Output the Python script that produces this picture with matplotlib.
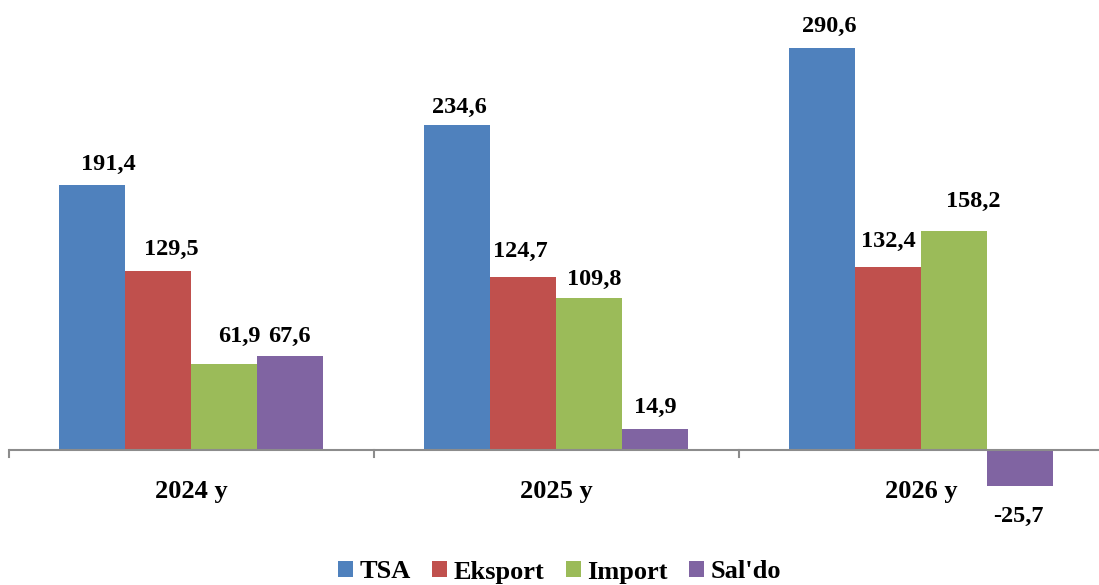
import matplotlib
matplotlib.use("Agg")
import matplotlib.pyplot as plt
import numpy as np
from matplotlib.patches import Patch

categories = ["2024 y", "2025 y", "2026 y"]
series_names = ["TSA", "Eksport", "Import", "Sal'do"]
tsa = [191.4, 234.6, 290.6]
eksport = [129.5, 124.7, 132.4]
import_ = [61.9, 109.8, 158.2]
saldo = [67.6, 14.9, -25.7]
colors = ["#4F81BD", "#C0504D", "#9BBB59", "#8064A2"]

# manual label placement (pixels): horizontal shift and gap from bar end to baseline
label_dx = [[16, 2, 7], [13, -3, 0], [15, 5, 19], [-1, 0, -2]]
label_gap = [[15, 13, 16], [16, 21, 20], [22, 13, 24], [15, 16, 36]]

plt.rcParams['font.family'] = ['Liberation Serif', 'DejaVu Serif']

W, H = 1099, 585
fig = plt.figure(figsize=(W / 100, H / 100), dpi=100)
ax_left, ax_right = 9, 1104
ax_top, ax_bot = 10, 540
ax = fig.add_axes([ax_left / W, 1 - ax_bot / H, (ax_right - ax_left) / W, (ax_bot - ax_top) / H])

px_per_unit = (450 - 48) / 290.6
ax.set_xlim(-0.5, 2.5)
ax.set_ylim(-(ax_bot - 450) / px_per_unit, (450 - ax_top) / px_per_unit)

x = np.arange(len(categories))
bw = 66 / 365
data = [tsa, eksport, import_, saldo]
for i, (vals, c) in enumerate(zip(data, colors)):
    pos = x + (i - 1.5) * bw
    ax.bar(pos, vals, width=bw, color=c, edgecolor='none', zorder=2)
    for j, (p, v) in enumerate(zip(pos, vals)):
        lbl = f"{v:.1f}".replace(".", ",")
        dx = label_dx[i][j] * 0.72
        gap = label_gap[i][j] * 0.72
        dy = gap if v >= 0 else -gap
        ax.annotate(lbl, (p, v), xytext=(dx, dy), textcoords='offset points',
                    ha='center', va='baseline', fontsize=17.5, fontweight='bold')

for s in ['top', 'right', 'left', 'bottom']:
    ax.spines[s].set_visible(False)
ax.axhline(0, color='#8C8C8C', lw=1.5, zorder=3)
ax.set_yticks([])
ax.set_xticks([])
for t in [-0.5, 0.5, 1.5, 2.5]:
    ax.plot([t, t], [0, -7 / px_per_unit], color='#8C8C8C', lw=1.5, zorder=3, clip_on=False)

for xi, cat in zip(x, categories):
    ax.text(xi, -(498 - 450) / px_per_unit, cat, ha='center', va='baseline',
            fontsize=19, fontweight='bold')

handles = [Patch(facecolor=c, edgecolor='none') for c in colors]
fig.legend(handles, series_names, loc='center', bbox_to_anchor=(559.5 / W, 1 - 572 / H),
           ncol=4, frameon=False, prop={'size': 19, 'weight': 'bold'},
           handlelength=0.57, handleheight=0.57, handletextpad=0.25, columnspacing=0.8,
           borderaxespad=0, borderpad=0)

fig.savefig("out.png", dpi=100)
